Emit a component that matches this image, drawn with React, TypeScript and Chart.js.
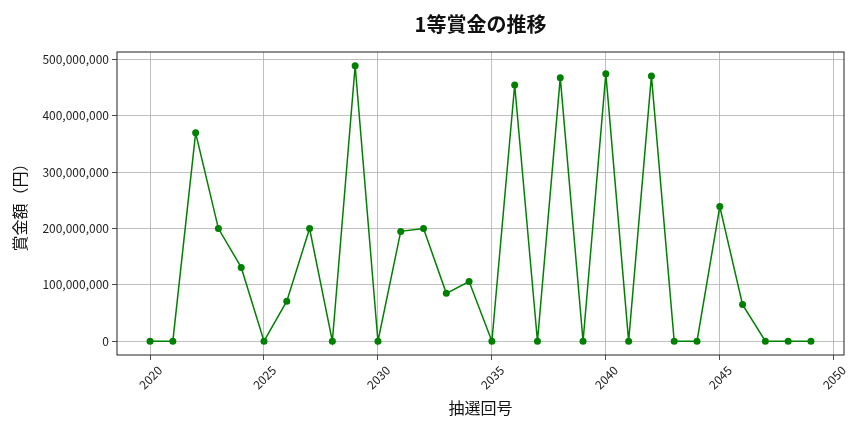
import React, { useEffect, useRef } from 'react';
import { Chart, registerables } from 'chart.js';

Chart.register(...registerables);

// 抽選回号 and 1等賞金 (円)
const drawNumbers = [
  2020, 2021, 2022, 2023, 2024, 2025, 2026, 2027, 2028, 2029,
  2030, 2031, 2032, 2033, 2034, 2035, 2036, 2037, 2038, 2039,
  2040, 2041, 2042, 2043, 2044, 2045, 2046, 2047, 2048, 2049,
];
const prizes = [
  0, 0, 370000000, 200000000, 131000000, 0, 71000000, 200000000, 0, 489000000,
  0, 195000000, 200000000, 85000000, 106000000, 0, 455000000, 0, 468000000, 0,
  475000000, 0, 471000000, 0, 0, 239000000, 65000000, 0, 0, 0,
];
const xTicks = [2020, 2025, 2030, 2035, 2040, 2045, 2050];
const yTicks = [0, 100000000, 200000000, 300000000, 400000000, 500000000];

const FONT = '"Noto Sans CJK JP", "Noto Sans", sans-serif';

// matplotlib style frame around the plot area
const framePlugin = {
  id: 'frame',
  afterDraw(chart: Chart) {
    const { ctx, chartArea } = chart;
    ctx.save();
    ctx.strokeStyle = '#222';
    ctx.lineWidth = 1;
    ctx.strokeRect(chartArea.left, chartArea.top, chartArea.right - chartArea.left, chartArea.bottom - chartArea.top);
    ctx.restore();
  },
};

const App: React.FC = () => {
  const chartRef = useRef<HTMLCanvasElement>(null);
  const chartInstance = useRef<Chart | null>(null);

  useEffect(() => {
    document.body.style.margin = '0';
    if (!chartRef.current) return;
    if (chartInstance.current) chartInstance.current.destroy();

    const ctx = chartRef.current.getContext('2d');
    if (!ctx) return;

    chartInstance.current = new Chart(ctx, {
      type: 'line',
      data: {
        datasets: [
          {
            label: '1等賞金',
            data: drawNumbers.map((x, i) => ({ x, y: prizes[i] })),
            borderColor: '#008000',
            backgroundColor: '#008000',
            borderWidth: 1.5,
            pointRadius: 3.5,
            pointBackgroundColor: '#008000',
            pointBorderWidth: 0,
            tension: 0,
          },
        ],
      },
      options: {
        responsive: false,
        animation: false,
        layout: { padding: { left: 0, right: 20, top: 0, bottom: 0 } },
        plugins: {
          legend: { display: false },
          tooltip: { enabled: false },
          title: {
            display: true,
            fullSize: false,
            text: '1等賞金の推移',
            color: '#111',
            font: { family: FONT, size: 20, weight: 'bold' },
            padding: { top: 12, bottom: 16 },
          },
        },
        scales: {
          x: {
            type: 'linear',
            min: 2018.55,
            max: 2050.45,
            afterBuildTicks: (scale: any) => {
              scale.ticks = xTicks.map((value) => ({ value }));
            },
            afterFit: (scale: any) => {
              scale.height = 77;
            },
            ticks: {
              minRotation: 45,
              maxRotation: 45,
              labelOffset: 10,
              padding: 3,
              color: '#222',
              font: { family: FONT, size: 12 },
              callback: (value: any) => String(value),
            },
            grid: { color: '#b0b0b0', lineWidth: 0.8, tickLength: 5, tickColor: '#222' },
            border: { display: false },
            title: {
              display: true,
              text: '抽選回号',
              color: '#111',
              font: { family: FONT, size: 16 },
              padding: { top: 0, bottom: 14 },
            },
          },
          y: {
            min: -24500000,
            max: 513500000,
            afterBuildTicks: (scale: any) => {
              scale.ticks = yTicks.map((value) => ({ value }));
            },
            afterFit: (scale: any) => {
              scale.width = 117;
            },
            ticks: {
              padding: 3,
              color: '#222',
              font: { family: FONT, size: 12 },
              callback: (value: any) => Number(value).toLocaleString('en-US'),
            },
            grid: { color: '#b0b0b0', lineWidth: 0.8, tickLength: 5, tickColor: '#222' },
            border: { display: false },
            title: {
              display: true,
              text: '賞金額（円）',
              color: '#111',
              font: { family: FONT, size: 16 },
              padding: { top: 10, bottom: 0 },
            },
          },
        },
      },
      plugins: [framePlugin],
    });

    return () => {
      if (chartInstance.current) {
        chartInstance.current.destroy();
        chartInstance.current = null;
      }
    };
  }, []);

  return (
    <div style={{ width: 864, height: 432, background: '#fff' }}>
      <canvas ref={chartRef} width={864} height={432}></canvas>
    </div>
  );
};

export default App;
